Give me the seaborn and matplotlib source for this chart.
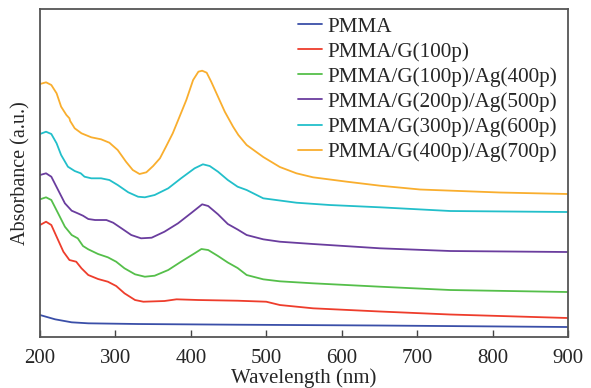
import pandas as pd
import matplotlib
matplotlib.use("Agg")
import matplotlib.pyplot as plt
import seaborn as sns

# --- (absorbance in arbitrary units) ---
labels = ["PMMA", "PMMA/G(100p)", "PMMA/G(100p)/Ag(400p)",
          "PMMA/G(200p)/Ag(500p)", "PMMA/G(300p)/Ag(600p)",
          "PMMA/G(400p)/Ag(700p)"]
colors = ["#3a4fa8", "#ee3d2c", "#55bf4a", "#6a3d9e", "#22bfca", "#f9ae2e"]

wl_pmma = [200, 220, 242, 264, 330, 462, 650, 900]
ab_pmma = [0.22, 0.177, 0.147, 0.137, 0.13, 0.123, 0.115, 0.10]

wl_g100 = [200, 208, 215, 222, 231, 239, 248, 255, 264, 277, 290, 301, 312,
           326, 337, 365, 381, 410, 462, 500, 518, 562, 651, 744, 900]
ab_g100 = [1.12, 1.153, 1.12, 1.003, 0.853, 0.77, 0.753, 0.687, 0.62, 0.58,
           0.553, 0.51, 0.437, 0.37, 0.353, 0.36, 0.377, 0.37, 0.363, 0.353,
           0.32, 0.287, 0.255, 0.225, 0.19]

wl_ag400 = [200, 208, 215, 224, 233, 242, 250, 257, 264, 277, 290, 301, 312,
            326, 339, 352, 370, 387, 405, 414, 423, 436, 449, 462, 474, 496,
            518, 562, 651, 744, 900]
ab_ag400 = [1.377, 1.397, 1.37, 1.237, 1.103, 1.02, 0.987, 0.91, 0.877, 0.83,
            0.797, 0.753, 0.687, 0.627, 0.603, 0.613, 0.67, 0.753, 0.837, 0.88,
            0.87, 0.81, 0.745, 0.69, 0.62, 0.577, 0.557, 0.537, 0.503, 0.47,
            0.45]

wl_ag500 = [200, 208, 215, 224, 233, 242, 250, 257, 264, 273, 288, 297, 308,
            321, 334, 348, 365, 383, 401, 415, 423, 436, 449, 462, 474, 496,
            518, 562, 651, 744, 900]
ab_ag500 = [1.62, 1.637, 1.603, 1.47, 1.337, 1.263, 1.237, 1.213, 1.18, 1.17,
            1.17, 1.143, 1.087, 1.02, 0.987, 0.993, 1.053, 1.137, 1.243, 1.327,
            1.31, 1.227, 1.13, 1.075, 1.02, 0.977, 0.953, 0.93, 0.887, 0.86,
            0.85]

wl_ag600 = [200, 208, 215, 222, 228, 237, 246, 254, 259, 268, 281, 292, 303,
            317, 330, 339, 352, 370, 387, 405, 416, 425, 436, 449, 462, 474,
            496, 540, 584, 651, 744, 900]
ab_ag600 = [2.03, 2.053, 2.03, 1.937, 1.82, 1.703, 1.66, 1.637, 1.603, 1.587,
            1.587, 1.57, 1.52, 1.447, 1.403, 1.397, 1.42, 1.487, 1.587, 1.687,
            1.727, 1.71, 1.653, 1.57, 1.503, 1.47, 1.387, 1.343, 1.32, 1.297,
            1.26, 1.25]

wl_ag700 = [200, 208, 215, 222, 228, 235, 239, 240, 246, 255, 268, 281, 292,
            303, 314, 323, 332, 341, 350, 359, 367, 376, 385, 394, 403, 410,
            415, 421, 427, 436, 445, 456, 463, 474, 496, 518, 540, 562, 607,
            651, 704, 810, 900]
ab_ag700 = [2.53, 2.547, 2.52, 2.437, 2.303, 2.22, 2.187, 2.16, 2.087, 2.037,
            1.997, 1.977, 1.943, 1.87, 1.753, 1.67, 1.63, 1.647, 1.71, 1.787,
            1.903, 2.037, 2.203, 2.37, 2.57, 2.653, 2.663, 2.643, 2.553, 2.403,
            2.253, 2.103, 2.02, 1.92, 1.80, 1.70, 1.637, 1.597, 1.553, 1.513,
            1.475, 1.445, 1.43]

series = [(wl_pmma, ab_pmma), (wl_g100, ab_g100), (wl_ag400, ab_ag400),
          (wl_ag500, ab_ag500), (wl_ag600, ab_ag600), (wl_ag700, ab_ag700)]

frames = []
for name, (wl, ab) in zip(labels, series):
    frames.append(pd.DataFrame({"Wavelength": wl, "Absorbance": ab, "Sample": name}))
df = pd.concat(frames, ignore_index=True)

sns.set_style("ticks")
plt.rcParams["font.family"] = ["Liberation Serif", "DejaVu Serif"]

fig = plt.figure(figsize=(5.91, 3.88), dpi=100)
ax = fig.add_axes([0.0677, 0.1314, 0.8933, 0.8454])

sns.lineplot(data=df, x="Wavelength", y="Absorbance", hue="Sample",
             hue_order=labels, palette=dict(zip(labels, colors)),
             estimator=None, sort=False, linewidth=1.3, ax=ax)

ax.set_xlim(200, 900)
ax.set_ylim(0, 3.28)
ax.set_xticks(range(200, 901, 100))
ax.set_yticks([])
ax.tick_params(axis="x", direction="in", length=5, width=1, labelsize=15,
               color="#444444", pad=8.5)
for sp in ax.spines.values():
    sp.set_color("#555555")
    sp.set_linewidth(1.3)
ax.set_xlabel("Wavelength (nm)", fontsize=15, labelpad=0.5)
ax.set_ylabel("Absorbance (a.u.)", fontsize=14.5, labelpad=7)

leg = ax.legend(loc="upper left", bbox_to_anchor=(0.461, 1.021), frameon=False,
                fontsize=15.2, handlelength=1.15, handletextpad=0.25,
                labelspacing=0.25, borderaxespad=0.3)
for line in leg.get_lines():
    line.set_linewidth(1.3)

fig.savefig("out.png", dpi=100)
